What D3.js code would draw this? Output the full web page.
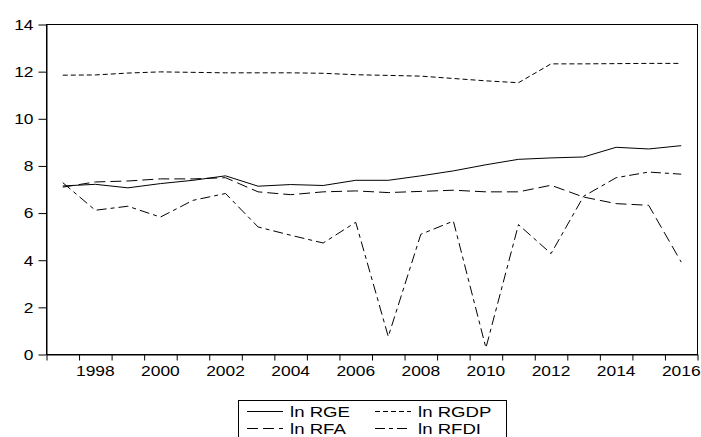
<!DOCTYPE html>
<html>
<head>
<meta charset="utf-8">
<script src="https://cdn.jsdelivr.net/npm/d3@7"></script>
<style>
  body { margin: 0; background: #fff; }
  svg text { font-family: "Liberation Sans", Arial, sans-serif; fill: #000; }
</style>
</head>
<body>
<svg id="chart" width="701" height="437"></svg>
<script>
// years of the series, one point per year
const years = d3.range(1997, 2017);
const lnRGE  = [7.15, 7.22, 7.07, 7.25, 7.39, 7.58, 7.14, 7.21, 7.17, 7.39, 7.39, 7.58, 7.79, 8.05, 8.28, 8.34, 8.38, 8.79, 8.72, 8.86];
const lnRGDP = [11.85, 11.86, 11.94, 11.99, 11.97, 11.95, 11.95, 11.95, 11.93, 11.87, 11.84, 11.81, 11.71, 11.61, 11.53, 12.33, 12.33, 12.34, 12.35, 12.35];
const lnRFA  = [7.10, 7.32, 7.36, 7.45, 7.45, 7.50, 6.90, 6.78, 6.90, 6.94, 6.87, 6.92, 6.97, 6.90, 6.90, 7.18, 6.68, 6.40, 6.33, 3.92];
const lnRFDI = [7.29, 6.12, 6.29, 5.83, 6.54, 6.83, 5.41, 5.06, 4.73, 5.61, 0.76, 5.10, 5.66, 0.28, 5.51, 4.28, 6.71, 7.50, 7.74, 7.65];
const yTicks = [0, 2, 4, 6, 8, 10, 12, 14];
const xLabels = d3.range(1998, 2017, 2);
const seriesNames = ['ln RGE', 'ln RGDP', 'ln RFA', 'ln RFDI'];

const series = [
  { name: seriesNames[0], values: lnRGE,  dash: null },
  { name: seriesNames[1], values: lnRGDP, dash: '5,3' },
  { name: seriesNames[2], values: lnRFA,  dash: '11,5' },
  { name: seriesNames[3], values: lnRFDI, dash: '10,4,4,4' }
];

const svg = d3.select('#chart');
const plotLeft = 46.5, plotRight = 697.5, plotTop = 24.5, plotBottom = 354.5;

const x = d3.scaleBand().domain(years).range([plotLeft, plotRight]);
const xEdge = d3.scaleLinear().domain([years[0] - 0.5, years[years.length - 1] + 0.5]).range([plotLeft, plotRight]);
const y = d3.scaleLinear().domain([0, 14]).range([plotBottom, plotTop]);

// frame
svg.append('rect')
  .attr('x', plotLeft).attr('y', plotTop)
  .attr('width', plotRight - plotLeft).attr('height', plotBottom - plotTop)
  .attr('fill', 'none').attr('stroke', '#000').attr('stroke-width', 1);

// y axis
svg.append('g')
  .attr('transform', `translate(${plotLeft},0)`)
  .call(d3.axisLeft(y).tickValues(yTicks).tickSize(8).tickPadding(5).tickSizeOuter(0));

// x axis ticks on year boundaries
svg.append('g')
  .attr('transform', `translate(0,${plotBottom})`)
  .call(d3.axisBottom(xEdge).tickValues(d3.range(years[0] - 0.5, years[years.length - 1] + 1, 1))
    .tickSize(6).tickFormat('').tickSizeOuter(0));

// x labels centered in year bands
const xAxis = svg.append('g')
  .attr('transform', `translate(0,${plotBottom})`)
  .call(d3.axisBottom(x).tickValues(xLabels).tickSize(0).tickPadding(11));
xAxis.select('.domain').remove();

svg.selectAll('.domain, .tick line').attr('stroke', '#000');
svg.selectAll('.tick text').attr('font-size', 15).attr('font-family', null);

// stretch text horizontally like the source picture
function stretchText(sel, k) {
  sel.each(function () {
    const len = this.getComputedTextLength();
    if (len > 0) d3.select(this).attr('textLength', len * k).attr('lengthAdjust', 'spacingAndGlyphs');
  });
}
stretchText(svg.selectAll('.tick text'), 1.16);

// lines
const line = d3.line()
  .x((d, i) => x(years[i]) + x.bandwidth() / 2)
  .y(d => y(d));

svg.append('g').selectAll('path')
  .data(series)
  .join('path')
  .attr('d', s => line(s.values))
  .attr('fill', 'none')
  .attr('stroke', '#000')
  .attr('stroke-width', 1)
  .attr('stroke-dasharray', s => s.dash);

// legend
const legend = svg.append('g');
legend.append('rect')
  .attr('x', 238.5).attr('y', 400.5)
  .attr('width', 268).attr('height', 60)
  .attr('fill', '#fff').attr('stroke', '#000');

const cols = [247, 375];
const rows = [411, 428];
series.forEach((s, i) => {
  const cx = cols[i % 2], cy = rows[Math.floor(i / 2)];
  legend.append('line')
    .attr('x1', cx).attr('x2', cx + 36)
    .attr('y1', cy + 0.5).attr('y2', cy + 0.5)
    .attr('stroke', '#000').attr('stroke-dasharray', s.dash);
  legend.append('text')
    .attr('x', cx + 43).attr('y', cy + 5.5)
    .attr('font-size', 15.5)
    .text(s.name);
});
stretchText(legend.selectAll('text'), 1.2);
</script>
</body>
</html>
